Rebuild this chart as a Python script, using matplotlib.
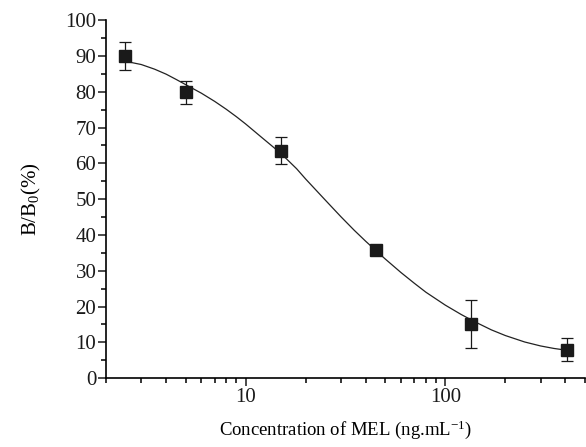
import matplotlib
matplotlib.use("Agg")
import matplotlib.pyplot as plt
import numpy as np
from matplotlib.ticker import MultipleLocator, LogLocator, NullFormatter, FixedLocator, FixedFormatter

plt.rcParams['font.family'] = ['Liberation Serif', 'DejaVu Serif']
plt.rcParams['mathtext.fontset'] = 'custom'
plt.rcParams['mathtext.rm'] = 'Liberation Serif'
plt.rcParams['mathtext.it'] = 'Liberation Serif'

# measured points (concentration, B/B0 %, error)
conc = [2.5, 5, 15, 45, 135, 405]
bb0 = [90.0, 79.8, 63.5, 35.7, 15.0, 8.0]
err = [3.9, 3.2, 3.8, 0.8, 6.7, 3.3]

# fitted curve
fit_x = [2.5, 3, 3.5, 4, 4.5, 5, 6, 7, 8, 9, 10, 12, 15, 18, 20, 25, 30, 35,
         40, 50, 60, 70, 80, 100, 120, 140, 170, 200, 250, 300, 350, 405]
fit_y = [88.5, 87.6, 86.3, 84.9, 83.4, 82.0, 79.6, 77.3, 75.1, 73.0, 71.0,
         67.3, 62.8, 58.5, 55.6, 49.8, 45.1, 41.3, 38.2, 33.3, 29.5, 26.5,
         24.0, 20.4, 17.8, 15.8, 13.5, 11.9, 10.1, 9.0, 8.3, 7.8]

fig = plt.figure(figsize=(5.86, 4.47), dpi=100)
ax = fig.add_axes([0.181, 0.154, 0.817, 0.801])

ax.plot(fit_x, fit_y, color='#222222', lw=0.9)
ax.errorbar(conc, bb0, yerr=err, fmt='s', color='#1a1a1a', ms=8,
            ecolor='#1a1a1a', elinewidth=0.9, capsize=4, capthick=0.9)

ax.set_xscale('log')
ax.set_xlim(2, 500)
ax.set_ylim(0, 100)

ax.spines['top'].set_visible(False)
ax.spines['right'].set_visible(False)
ax.spines['left'].set_linewidth(1.2)
ax.spines['bottom'].set_linewidth(1.2)

ax.yaxis.set_major_locator(MultipleLocator(10))
ax.yaxis.set_minor_locator(MultipleLocator(5))
ax.xaxis.set_major_locator(FixedLocator([10, 100]))
ax.xaxis.set_major_formatter(FixedFormatter(['10', '100']))
ax.xaxis.set_minor_locator(LogLocator(base=10, subs=np.arange(2, 10)))
ax.xaxis.set_minor_formatter(NullFormatter())

ax.tick_params(which='major', direction='out', length=6, width=1.1,
               labelsize=15, colors='#1a1a1a')
ax.tick_params(which='minor', direction='out', length=3.5, width=1.1)
ax.tick_params(axis='y', pad=1)
ax.tick_params(axis='x', pad=1)

ax.set_ylabel('B/B$_0$(%)', fontsize=15, labelpad=16)
ax.set_xlabel('Concentration of MEL (ng.mL$^{-1}$)', fontsize=13.5, labelpad=8)

fig.savefig('out.png', dpi=100)
